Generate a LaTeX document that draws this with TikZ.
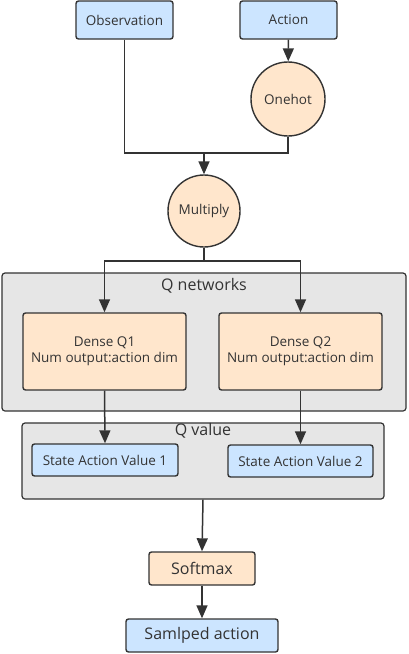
\documentclass[tikz,border=0pt]{standalone}
\usepackage{fontspec}
\setmainfont{Open Sans}
\usetikzlibrary{arrows.meta}
\definecolor{boxblue}{HTML}{CCE5FF}
\definecolor{boxorange}{HTML}{FFE6CC}
\definecolor{boxgray}{HTML}{E6E6E6}
\definecolor{linegray}{HTML}{333333}
\tikzset{
  inbox/.style={draw=linegray, line width=1.4pt, rounded corners=2.5pt, fill=boxblue,
    text=linegray, inner sep=0pt},
  opbox/.style={inbox, fill=boxorange},
  opcircle/.style={circle, draw=linegray, line width=1.4pt, fill=boxorange,
    text=linegray, inner sep=0pt},
  group/.style={draw=linegray, line width=1.2pt, rounded corners=3pt, fill=boxgray, inner sep=0pt},
  grouplabel/.style={text=linegray, font=\fontsize{16}{18}\selectfont},
  bigtext/.style={font=\fontsize{16}{19}\selectfont},
  arr/.style={-{Triangle[length=13pt,width=11pt]}},
}
\begin{document}
\begin{tikzpicture}[x=1pt, y=-1pt, line width=1.5pt, draw=linegray, font=\fontsize{13.5}{16}\selectfont]
      \useasboundingbox (0,0) rectangle (408,654);
      % inputs
      \node [inbox, minimum width=97pt, minimum height=38pt] (obs) at (124.5,20) {Observation};
      \node [inbox, minimum width=97pt, minimum height=38pt] (act) at (288.5,20) {Action};
      \node [opcircle, minimum size=74pt] (onehot) at (288,99) {Onehot};
      \node [opcircle, minimum size=72pt] (mult) at (204,211) {Multiply};
      \coordinate (join) at (204,153);
      \coordinate (split) at (204,261);
      % groups
      \node [group, minimum width=404pt, minimum height=138pt] (qnet) at (204,342) {};
      \node [grouplabel] at (204,286) {Q networks};
      \node [opbox, minimum width=163pt, minimum height=77pt, align=center] (d1) at (104.5,351.5) {Dense Q1\\Num output:action dim};
      \node [opbox, minimum width=163pt, minimum height=77pt, align=center] (d2) at (300.5,351.5) {Dense Q2\\Num output:action dim};
      \node [group, minimum width=362pt, minimum height=76pt] (qval) at (203,461) {};
      \node [grouplabel] at (203,431) {Q value};
      \node [inbox, minimum width=146pt, minimum height=32pt] (sav1) at (105,460) {State Action Value 1};
      \node [inbox, minimum width=145pt, minimum height=32pt] (sav2) at (300.5,461) {State Action Value 2};
      % output
      \node [opbox, bigtext, minimum width=106pt, minimum height=33pt] (soft) at (202,568.5) {Softmax};
      \node [inbox, bigtext, minimum width=152pt, minimum height=33pt] (sampled) at (202,635.5) {Samlped action};
      % connectors
      \draw [arr] (act) -- (onehot);
      \draw (obs.south) |- (join);
      \draw (onehot.south) |- (join);
      \draw [arr] (join) -- (mult);
      \draw (mult.south) -- (split);
      \draw [arr] (split) -| (d1.north);
      \draw [arr] (split) -| (d2.north);
      \draw [arr] (d1.south) -- (sav1.north);
      \draw [arr] (d2.south) -- (sav2.north);
      \draw [arr] (qval.south) -- (soft.north);
      \draw [arr] (soft) -- (sampled);
\end{tikzpicture}
\end{document}
